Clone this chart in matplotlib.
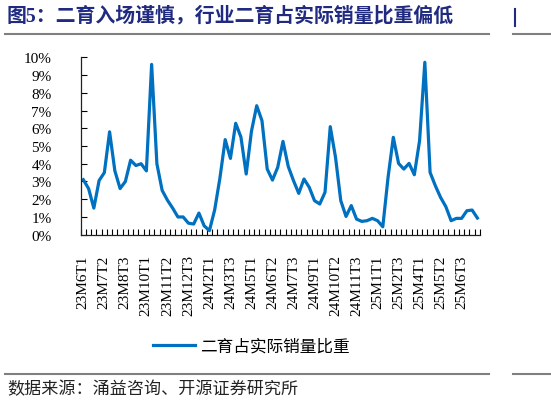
import matplotlib
matplotlib.use('Agg')
import matplotlib.pyplot as plt
import numpy as np

# share of second fattening in actual hog sales (%), one value per ten-day period
share = [3.1, 2.6, 1.5, 3.05, 3.5, 5.8, 3.6, 2.6, 3.0, 4.2,
         3.9, 4.0, 3.6, 9.6, 4.0, 2.5, 1.95, 1.5, 1.0, 1.0,
         0.65, 0.6, 1.22, 0.5, 0.23, 1.4, 3.2, 5.36, 4.3, 6.28,
         5.5, 3.42, 5.83, 7.27, 6.43, 3.7, 3.08, 3.8, 5.26, 3.85,
         3.05, 2.33, 3.14, 2.67, 1.92, 1.73, 2.39, 6.09, 4.36, 1.92,
         1.03, 1.64, 0.88, 0.75, 0.79, 0.92, 0.79, 0.45, 3.23, 5.49,
         4.02, 3.7, 4.02, 3.38, 5.3, 9.72, 3.51, 2.76, 2.1, 1.58,
         0.79, 0.92, 0.92, 1.35, 1.39, 0.94]

# labels shown on the x axis (every 4th period)
tick_labels = ['23M6T1', '23M7T2', '23M8T3', '23M10T1', '23M11T2', '23M12T3',
               '24M2T1', '24M3T3', '24M5T1', '24M6T2', '24M7T3', '24M9T1',
               '24M10T2', '24M11T3', '25M1T1', '25M2T3', '25M4T1', '25M5T2',
               '25M6T3']

title = '图5：二育入场谨慎，行业二育占实际销量比重偏低'
source = '数据来源：涌益咨询、开源证券研究所'
series_name = '二育占实际销量比重'

W, H = 551, 402
fig = plt.figure(figsize=(W / 100, H / 100), dpi=100)
ax = fig.add_axes([80.7 / W, 1 - 235.7 / H, (480 - 80.7) / W, (235.7 - 58.3) / H])

x = np.arange(len(share))
line, = ax.plot(x, share, color='#0070C0', lw=2.3, label=series_name)

ax.set_xlim(-0.5, len(share) - 0.5)
ax.set_ylim(0, 10)
ax.set_yticks(np.arange(0, 11))
ax.set_yticklabels([f'{v}%' for v in range(11)], family='Liberation Serif', fontsize=11)
ax.set_xticks(np.arange(0, len(tick_labels) * 4, 4))
ax.set_xticklabels(tick_labels, rotation=90, family='Liberation Serif', fontsize=11)
ax.set_xticks(np.arange(-0.5, len(share), 1), minor=True)

ax.tick_params(axis='y', direction='in', length=4, width=0.8, pad=21, colors='black')
ax.tick_params(axis='x', which='major', length=0, pad=14)
ax.tick_params(axis='x', which='minor', direction='in', length=4, width=0.8)

for s in ['top', 'right']:
    ax.spines[s].set_visible(False)
for s in ['left', 'bottom']:
    ax.spines[s].set_linewidth(0.9)
    ax.spines[s].set_color('#222222')

ax.legend(handles=[line], loc='center left', bbox_to_anchor=(153 / W, 1 - 347 / H),
          bbox_transform=fig.transFigure, frameon=False, borderpad=0, borderaxespad=0,
          handlelength=2.5, handletextpad=0.35,
          prop={'family': ['Noto Sans CJK SC'], 'size': 12})

# title, separator lines and source note
fig.text(7 / W, 1 - 16 / H, title, color='#1f2a80', fontsize=14.3, fontweight='bold',
         family=['Liberation Serif', 'Noto Sans CJK SC'], va='center', ha='left')
fig.add_artist(plt.Line2D([5 / W, 489 / W], [1 - 35 / H] * 2, color='#7f7f7f', lw=1.5))
fig.add_artist(plt.Line2D([513 / W, 1], [1 - 35 / H] * 2, color='#7f7f7f', lw=1.5))
fig.add_artist(plt.Line2D([515 / W] * 2, [1 - 10 / H, 1 - 27 / H], color='#1f2a80', lw=1.5))
fig.add_artist(plt.Line2D([5 / W, 489 / W], [1 - 375 / H] * 2, color='#7f7f7f', lw=1.5))
fig.add_artist(plt.Line2D([513 / W, 1], [1 - 375 / H] * 2, color='#7f7f7f', lw=1.5))
fig.text(7 / W, 1 - 389 / H, source, fontsize=12.3, family=['Noto Sans CJK SC'],
         va='center', ha='left', color='#222222')

fig.savefig('out.png', dpi=100)
